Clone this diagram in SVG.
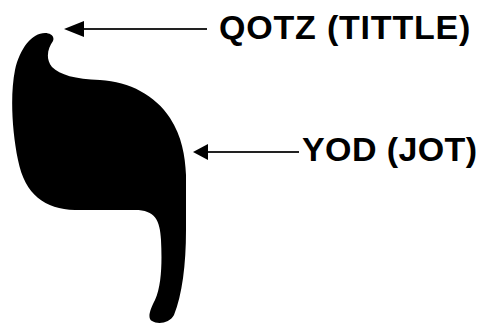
<svg xmlns="http://www.w3.org/2000/svg" width="480" height="324" viewBox="0 0 480 324">
<style>
.lbl{font-family:"Liberation Sans",Arial,sans-serif;font-weight:bold;font-size:34px;fill:#000}
.ln{stroke:#222;stroke-width:2;fill:none}
.hd{fill:#000}
</style>
<rect width="480" height="324" fill="#fff"/>
<g id="yod">
<path fill="#000" d="M45,33 C50,33 55,36 53,41 C48,48 45,58 52,67 C60,75 75,79 100,80 C130,82 155,95 170,118 C182,137 185,155 186,175 L186,230 C186,265 182,295 174,315 C170,323 158,325 152,321 C147,318 150,310 155,300 C162,285 162,260 161,240 C160,220 155,210 135,210 L75,210 C45,209 25,195 18,160 C12,130 10,95 15,70 C20,48 32,33 45,33 Z"/>
</g>
<g id="connectors">
<line class="ln" x1="82" y1="29" x2="207" y2="29"/>
<polygon class="hd" points="64,29 84,21 84,37"/>
<line class="ln" x1="206" y1="152" x2="299" y2="152"/>
<polygon class="hd" points="193,152 208,144 208,160"/>
</g>
<g id="qotz-label"><text class="lbl" x="219" y="39" letter-spacing="0.8">QOTZ (TITTLE)</text></g>
<g id="yod-label"><text class="lbl" x="302" y="161" letter-spacing="0.4">YOD (JOT)</text></g>
</svg>
